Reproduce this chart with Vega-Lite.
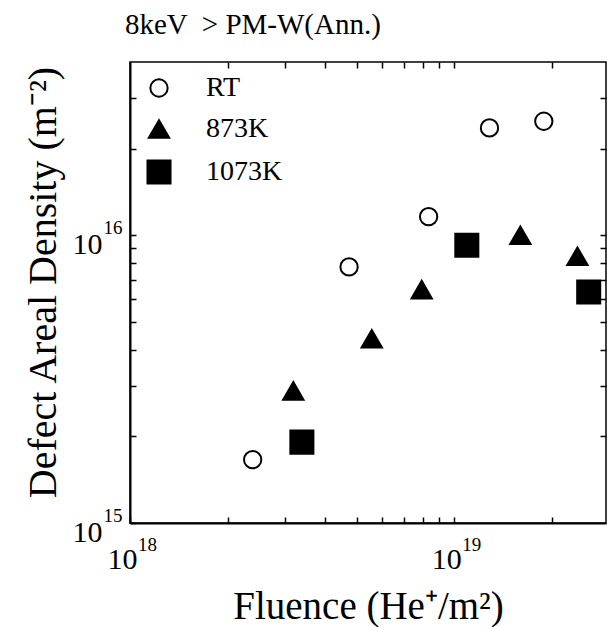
{
  "$schema": "https://vega.github.io/schema/vega-lite/v6.json",
  "width": 476,
  "height": 461,
  "autosize": {"type": "none"},
  "padding": {"left": 130, "top": 62, "right": 1, "bottom": 104},
  "title": {
    "text": "8keV \u00a0> PM-W(Ann.)",
    "anchor": "start",
    "frame": "group",
    "font": "Liberation Serif",
    "fontSize": 29,
    "fontWeight": "normal",
    "color": "black",
    "baseline": "alphabetic",
    "dx": -5,
    "offset": -2
  },
  "config": {
    "view": {"stroke": "black", "strokeWidth": 1.5},
    "axis": {"grid": false, "labelFont": "Liberation Serif", "titleFont": "Liberation Serif", "labelColor": "black", "titleColor": "black", "tickColor": "black", "domainColor": "black", "labelFlush": false, "labelOverlap": false, "labelBound": false, "titleFontWeight": "normal"},
    "legend": {"labelFont": "Liberation Serif"}
  },
  "data": {
    "values": [
      {"series": "RT", "fluence": 2.39e18, "density": 1.66e15},
      {"series": "RT", "fluence": 4.74e18, "density": 7.76e15},
      {"series": "RT", "fluence": 8.34e18, "density": 1.16e16},
      {"series": "RT", "fluence": 1.285e19, "density": 2.36e16},
      {"series": "RT", "fluence": 1.89e19, "density": 2.49e16},
      {"series": "873K", "fluence": 3.19e18, "density": 2.88e15},
      {"series": "873K", "fluence": 5.57e18, "density": 4.37e15},
      {"series": "873K", "fluence": 7.94e18, "density": 6.47e15},
      {"series": "873K", "fluence": 1.6e19, "density": 1.0e16},
      {"series": "873K", "fluence": 2.40e19, "density": 8.45e15},
      {"series": "1073K", "fluence": 3.39e18, "density": 1.91e15},
      {"series": "1073K", "fluence": 1.094e19, "density": 9.23e15},
      {"series": "1073K", "fluence": 2.60e19, "density": 6.35e15}
    ]
  },
  "resolve": {"axis": {"x": "independent", "y": "independent"}},
  "layer": [
    {
      "mark": {"type": "point", "stroke": "black", "strokeWidth": 2, "opacity": 1},
      "encoding": {
        "x": {
          "field": "fluence", "type": "quantitative",
          "scale": {"type": "log", "domain": [1e18, 2.94e19], "nice": false},
          "axis": {
            "orient": "bottom",
            "values": [1e18, 2e18, 3e18, 4e18, 5e18, 6e18, 7e18, 8e18, 9e18, 1e19, 2e19],
            "labelExpr": "abs(log(datum.value)/LN10 - round(log(datum.value)/LN10)) < 0.01 ? '10' : ''",
            "labelFontSize": 30,
            "labelBaseline": "alphabetic",
            "labelAlign": "center",
            "labelPadding": 51,
            "labelOffset": -8,
            "tickSize": -6,
            "tickWidth": 1.5,
            "domainWidth": 2,
            "title": "Fluence (He⁺/m²)",
            "titleFontSize": 39,
            "titleBaseline": "alphabetic",
            "titleY": 95
          }
        },
        "y": {
          "field": "density", "type": "quantitative",
          "scale": {"type": "log", "domain": [1e15, 4e16], "nice": false},
          "axis": {
            "orient": "left",
            "values": [1e15, 2e15, 3e15, 4e15, 5e15, 6e15, 7e15, 8e15, 9e15, 1e16, 2e16, 3e16],
            "labelExpr": "abs(log(datum.value)/LN10 - round(log(datum.value)/LN10)) < 0.01 ? '10' : ''",
            "labelFontSize": 30,
            "labelBaseline": "alphabetic",
            "labelAlign": "right",
            "labelPadding": 34,
            "labelOffset": 18,
            "tickSize": -6,
            "tickWidth": 1.5,
            "domainWidth": 2,
            "title": "Defect Areal Density (m⁻²)",
            "titleFontSize": 40,
            "titleBaseline": "alphabetic",
            "titleX": -75,
            "titleY": 220
          }
        },
        "shape": {
          "field": "series", "type": "nominal",
          "scale": {"domain": ["RT", "873K", "1073K"], "range": ["circle", "triangle-up", "square"]},
          "legend": {
            "title": null,
            "orient": "none",
            "legendX": 15,
            "legendY": 12,
            "padding": 0,
            "labelFontSize": 28,
            "labelColor": "black",
            "labelOffset": 33,
            "rowPadding": 13,
            "symbolStrokeColor": "black",
            "symbolStrokeWidth": 2
          }
        },
        "fill": {
          "field": "series", "type": "nominal",
          "scale": {"domain": ["RT", "873K", "1073K"], "range": ["white", "black", "black"]}
        },
        "size": {
          "field": "series", "type": "nominal",
          "scale": {"domain": ["RT", "873K", "1073K"], "range": [300, 530, 400]}
        }
      }
    },
    {
      "mark": {"type": "point", "opacity": 0},
      "encoding": {
        "x": {
          "field": "fluence", "type": "quantitative",
          "axis": {
            "orient": "bottom",
            "values": [1e18, 1e19],
            "labelExpr": "'' + round(log(datum.value)/LN10)",
            "labelFontSize": 19,
            "labelBaseline": "alphabetic",
            "labelAlign": "center",
            "labelPadding": 27,
            "labelOffset": 17,
            "ticks": false,
            "domain": false,
            "title": null
          }
        },
        "y": {
          "field": "density", "type": "quantitative",
          "axis": {
            "orient": "left",
            "values": [1e15, 1e16],
            "labelExpr": "'' + round(log(datum.value)/LN10)",
            "labelFontSize": 19,
            "labelBaseline": "alphabetic",
            "labelAlign": "right",
            "labelPadding": 8,
            "labelOffset": -2,
            "ticks": false,
            "domain": false,
            "title": null
          }
        }
      }
    },
    {
      "mark": {"type": "point", "opacity": 0},
      "encoding": {
        "x": {
          "field": "fluence", "type": "quantitative",
          "axis": {
            "orient": "top",
            "values": [2e18, 3e18, 4e18, 5e18, 6e18, 7e18, 8e18, 9e18, 1e19, 2e19],
            "labels": false,
            "tickSize": -6,
            "tickWidth": 1.5,
            "domain": false,
            "title": null
          }
        },
        "y": {
          "field": "density", "type": "quantitative",
          "axis": {
            "orient": "right",
            "values": [2e15, 3e15, 4e15, 5e15, 6e15, 7e15, 8e15, 9e15, 1e16, 2e16, 3e16],
            "labels": false,
            "tickSize": -6,
            "tickWidth": 1.5,
            "domain": false,
            "title": null
          }
        }
      }
    }
  ]
}
